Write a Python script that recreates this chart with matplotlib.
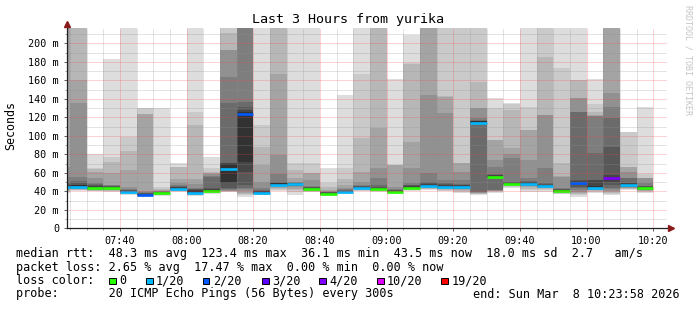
import numpy as np
import matplotlib
matplotlib.use("Agg")
from matplotlib import pyplot as plt
from matplotlib.patches import Rectangle

W, H = 697, 310
MONO = "DejaVu Sans Mono"

# ---- data ----------------------------------------------------------
# start of every 5 minute step, minutes after 07:00 (07:20 ... 10:15)
step_start = np.arange(20, 200, 5)

# 20 sorted ping rtts per step (ms), values above the chart top are clipped
pings = [
    [38.0, 39.0, 40.0, 41.0, 42.0, 42.8, 43.4, 43.9, 44.3, 44.7, 45.6, 46.5, 48.0, 50.0, 55.0, 66.5, 230, 230, 230, 230],
    [40.5, 41.0, 41.6, 42.0, 42.5, 43.0, 43.4, 43.8, 44.2, 44.6, 46.4, 47.3, 48.6, 51.1, 55.8, 135.1, 160.3, 230, 230, 230],
    [39.9, 40.3, 40.7, 41.0, 41.4, 41.7, 42.0, 42.3, 42.6, 43.0, 44.5, 45.5, 46.5, 47.5, 48.6, 54.0, 61.2, 64.1, 65.5, 80.3],
    [39.6, 40.1, 40.6, 41.0, 41.5, 41.9, 42.2, 42.5, 42.8, 43.1, 44.2, 44.8, 45.3, 45.8, 46.3, 47.0, 59.4, 72.0, 77.4, 182.5],
    [36.2, 36.8, 37.3, 37.7, 38.1, 38.4, 38.7, 39.0, 39.3, 39.5, 40.3, 40.8, 41.2, 41.8, 42.5, 45.0, 63.0, 83.6, 99.1, 230],
    [34.3, 34.6, 34.9, 35.1, 35.3, 35.5, 35.7, 35.9, 36.0, 36.1, 37.0, 37.4, 37.8, 38.2, 38.8, 40.0, 123.6, 124.0, 129.8, 130.4],
    [35.4, 35.8, 36.2, 36.5, 36.8, 37.0, 37.2, 37.4, 37.6, 37.7, 38.4, 38.7, 39.0, 39.4, 39.8, 40.3, 41.0, 42.5, 45.0, 130.5],
    [39.3, 39.8, 40.3, 40.7, 41.1, 41.4, 41.7, 42.0, 42.3, 42.5, 43.6, 44.2, 44.8, 45.5, 46.5, 48.6, 53.0, 66.0, 66.6, 71.0],
    [35.0, 35.6, 36.1, 36.5, 36.9, 37.2, 37.5, 37.8, 38.0, 38.2, 40.0, 41.0, 42.0, 43.0, 44.0, 48.0, 52.9, 111.7, 125.4, 230],
    [37.4, 37.9, 38.3, 38.7, 39.0, 39.3, 39.6, 39.9, 40.1, 40.3, 41.5, 42.5, 43.5, 55.8, 57.0, 58.5, 60.1, 61.0, 64.8, 77.4],
    [39.3, 39.6, 39.9, 40.3, 40.8, 41.3, 42.2, 43.2, 49.5, 50.4, 70.0, 70.2, 70.4, 135.1, 164.0, 192.8, 193.2, 210.8, 230, 230],
    [34.2, 35.5, 37.0, 38.5, 40.0, 42.0, 44.0, 46.8, 61.2, 72.0, 125.5, 128.0, 130.8, 136.9, 230, 230, 230, 230, 230, 230],
    [35.5, 36.0, 36.5, 36.9, 37.2, 37.5, 37.8, 38.0, 38.2, 38.3, 39.6, 40.2, 40.8, 41.5, 43.2, 50.4, 68.4, 88.3, 111.7, 230],
    [40.0, 41.5, 42.8, 43.8, 44.6, 45.3, 45.8, 46.2, 46.6, 46.9, 48.5, 49.0, 49.5, 50.4, 58.3, 78.9, 166.8, 230, 230, 230],
    [36.0, 39.0, 41.5, 43.0, 44.5, 45.5, 46.2, 46.7, 47.0, 47.2, 48.3, 48.6, 48.9, 49.3, 49.8, 50.5, 54.0, 63.0, 70.2, 230],
    [38.8, 39.3, 39.8, 40.3, 40.8, 41.2, 41.5, 41.8, 42.0, 42.2, 43.4, 43.8, 44.2, 44.8, 45.5, 52.0, 59.4, 59.6, 70.2, 230],
    [34.8, 35.3, 35.8, 36.2, 36.5, 36.8, 37.0, 37.2, 37.4, 37.5, 38.2, 38.5, 38.8, 39.1, 39.5, 40.0, 41.0, 45.0, 48.6, 64.8],
    [36.8, 37.3, 37.8, 38.2, 38.5, 38.8, 39.0, 39.2, 39.4, 39.5, 40.1, 40.4, 40.8, 41.3, 42.0, 43.2, 46.5, 53.3, 64.8, 144.1],
    [40.0, 40.8, 41.5, 42.0, 42.5, 42.9, 43.2, 43.5, 43.7, 43.9, 44.5, 44.9, 45.3, 45.8, 46.5, 50.4, 61.2, 97.3, 166.5, 230],
    [39.3, 39.8, 40.3, 40.7, 41.1, 41.4, 41.7, 41.9, 42.1, 42.3, 43.2, 44.0, 45.0, 46.5, 54.0, 64.8, 108.0, 230, 230, 230],
    [37.3, 37.7, 38.1, 38.4, 38.7, 38.9, 39.1, 39.3, 39.4, 39.5, 40.1, 40.5, 41.0, 41.7, 42.5, 45.0, 68.0, 68.3, 68.5, 161.4],
    [40.8, 41.4, 41.9, 42.3, 42.7, 43.0, 43.3, 43.5, 43.7, 43.9, 45.0, 45.8, 46.5, 47.3, 48.5, 64.8, 93.7, 178.0, 178.4, 209.0],
    [41.5, 42.3, 43.0, 43.6, 44.1, 44.6, 45.0, 45.4, 45.7, 46.0, 47.2, 48.0, 49.0, 50.4, 59.4, 144.1, 230, 230, 230, 230],
    [39.8, 40.6, 41.3, 42.0, 42.6, 43.1, 43.6, 44.0, 44.4, 44.7, 46.0, 46.8, 47.8, 49.0, 52.0, 124.3, 142.3, 143.0, 230, 230],
    [38.2, 39.5, 40.6, 41.5, 42.3, 43.0, 43.6, 44.1, 44.5, 44.8, 46.0, 46.5, 47.0, 47.6, 52.0, 61.0, 70.2, 70.4, 230, 230],
    [36.0, 37.0, 37.5, 38.0, 38.5, 39.0, 39.6, 112.5, 113.0, 113.5, 115.5, 116.0, 116.5, 117.0, 118.9, 129.7, 130.0, 158.5, 230, 230],
    [38.0, 39.2, 39.8, 40.2, 40.6, 41.0, 41.4, 54.0, 54.5, 55.0, 56.9, 57.4, 57.9, 58.5, 66.6, 73.8, 95.5, 95.7, 129.7, 141.2],
    [44.0, 44.8, 45.5, 46.0, 46.5, 46.9, 47.2, 47.5, 47.7, 47.9, 48.9, 49.3, 49.8, 50.4, 75.7, 80.0, 86.4, 127.9, 134.8, 135.5],
    [39.6, 41.5, 43.0, 44.2, 45.2, 46.0, 46.6, 47.1, 47.4, 47.7, 49.1, 49.6, 50.2, 51.0, 54.0, 73.8, 106.3, 106.5, 131.5, 230],
    [39.5, 41.0, 42.3, 43.2, 43.8, 44.2, 44.5, 44.7, 44.9, 45.0, 46.4, 47.0, 47.6, 48.5, 64.8, 122.5, 122.7, 185.6, 230, 230],
    [37.0, 37.6, 38.1, 38.5, 38.8, 39.1, 39.3, 39.5, 39.7, 39.8, 41.3, 41.8, 42.3, 43.0, 44.0, 55.8, 56.0, 70.2, 173.0, 230],
    [34.2, 35.5, 37.0, 38.0, 39.5, 41.0, 43.2, 45.0, 47.5, 48.5, 50.3, 51.0, 52.0, 125.4, 125.6, 140.5, 140.7, 160.3, 160.5, 230],
    [38.5, 39.5, 40.3, 40.9, 41.4, 41.8, 42.1, 42.4, 42.6, 42.8, 46.0, 52.2, 52.4, 81.0, 121.8, 121.9, 122.0, 125.4, 134.0, 161.4],
    [36.0, 37.0, 38.0, 39.0, 40.5, 42.0, 44.0, 47.0, 50.0, 52.0, 55.8, 57.5, 88.3, 118.9, 131.5, 145.9, 230, 230, 230, 230],
    [41.0, 42.0, 42.8, 43.5, 44.1, 44.6, 45.0, 45.4, 45.7, 46.0, 47.8, 48.5, 49.5, 54.0, 54.2, 61.0, 66.6, 66.8, 104.3, 104.5],
    [38.2, 39.2, 40.0, 40.7, 41.2, 41.7, 42.1, 42.4, 42.7, 42.9, 44.2, 44.8, 45.3, 46.0, 48.6, 54.0, 54.1, 54.2, 58.3, 131.5],
]

median = [44.5, 45.0, 43.5, 43.3, 39.6, 36.2, 37.8, 42.8, 38.6, 40.4, 64.6, 123.4,
          38.6, 47.3, 47.7, 42.7, 37.6, 39.6, 44.0, 42.5, 39.6, 44.0, 46.1, 45.0,
          45.0, 114.2, 55.8, 48.3, 48.3, 45.3, 40.0, 49.1, 43.2, 54.0, 46.5, 43.2]

# lost pings out of 20 for each step
loss = [1, 1, 0, 0, 1, 2, 0, 1, 1, 0, 1, 2,
        1, 1, 1, 0, 0, 1, 1, 0, 0, 0, 1, 1,
        1, 1, 0, 0, 1, 1, 0, 2, 1, 4, 1, 0]

loss_levels = [0, 1, 2, 3, 4, 10, 19]
loss_labels = ["0", "1/20", "2/20", "3/20", "4/20", "10/20", "19/20"]
loss_colors = ["#26ff00", "#00b8ff", "#0059ff", "#5e00ff", "#7e00ff", "#dd00ff", "#ff0000"]

xtick_pos = [40, 60, 80, 100, 120, 140, 160, 180, 200]
xtick_labels = ["07:40", "08:00", "08:20", "08:40", "09:00", "09:20", "09:40", "10:00", "10:20"]
ytick_pos = [0, 20, 40, 60, 80, 100, 120, 140, 160, 180, 200]
ytick_labels = ["0"] + ["%d m" % v for v in ytick_pos[1:]]

rtt_stats = [48.3, 123.4, 36.1, 43.5, 18.0]
am_s = 2.7
loss_stats = [2.65, 17.47, 0.00, 0.00]


def px(x, y):
    return x / W, 1 - y / H


fig = plt.figure(figsize=(W / 100, H / 100), dpi=100)
fig.patch.set_facecolor("white")
ax = fig.add_axes([66.5 / W, 1 - 228.3 / H, 600 / W, 200 / H])
ax.set_xlim(24, 204)
ax.set_ylim(0, 216.2)

# smoke: 10 nested bands, outer ones lighter
grays = ["#%02x%02x%02x" % ((int(19 * (10 - i)) + 50,) * 3) for i in range(1, 11)]
for k, p in enumerate(pings):
    for i in range(10):
        ax.bar(step_start[k], p[19 - i] - p[i], bottom=p[i], width=5, align="edge",
               color=grays[i], linewidth=0, zorder=2)
    col = loss_colors[max(j for j, lv in enumerate(loss_levels) if loss[k] >= lv)]
    ax.plot([step_start[k], step_start[k] + 5], [median[k], median[k]], color=col,
            lw=1.9, solid_capstyle="butt", zorder=3)

# grid on top like rrdtool
for v in range(10, 216, 10):
    major = v % 20 == 0
    ax.axhline(v, color="#ff4040" if major else "#909090", alpha=0.45 if major else 0.5,
               lw=0.72, ls=(0, (1, 1)), zorder=5)
for t in range(25, 204, 5):
    major = t % 20 == 0
    ax.axvline(t, color="#ff4040" if major else "#909090", alpha=0.45 if major else 0.5,
               lw=0.72, ls=(0, (1, 1)), zorder=5)

for s in ["top", "right", "left", "bottom"]:
    ax.spines[s].set_visible(False)
ax.plot([24, 24], [0, 220], color="#202020", lw=0.9, clip_on=False, zorder=6)
ax.plot([24, 205.2], [0, 0], color="#202020", lw=0.9, clip_on=False, zorder=6)
ax.plot([24], [221], marker="^", ms=4, color="#8b1a1a", clip_on=False, zorder=7)
ax.plot([205.4], [0], marker=">", ms=4, color="#8b1a1a", clip_on=False, zorder=7)

ax.set_xticks(xtick_pos)
ax.set_xticklabels(xtick_labels)
ax.set_xticks(range(25, 204, 5), minor=True)
ax.set_yticks(ytick_pos)
ax.set_yticklabels(ytick_labels)
ax.set_yticks(range(10, 216, 20), minor=True)
ax.tick_params(which="major", length=2.2, width=0.7, color="#606060", pad=3.2,
               labelsize=7.3, direction="out")
ax.tick_params(which="minor", length=1.5, width=0.6, color="#909090", direction="out")
for lab in ax.get_xticklabels() + ax.get_yticklabels():
    lab.set_fontfamily(MONO)

# texts
fig.text(*px(347.5, 19), "Last 3 Hours from yurika", ha="center", va="center",
         fontsize=9.6, family=MONO)
fig.text(*px(11, 125), "Seconds", rotation=90, ha="center", va="center",
         fontsize=8.4, family=MONO)
fig.text(*px(688, 5), "RRDTOOL / TOBI OETIKER", rotation=270, ha="center", va="top",
         fontsize=6, family=MONO, color="#c4c4c4")

FS = 8.45
row1 = ("median rtt:  %.1f ms avg  %.1f ms max  %.1f ms min  %.1f ms now  %.1f ms sd  %.1f   am/s"
        % (rtt_stats[0], rtt_stats[1], rtt_stats[2], rtt_stats[3], rtt_stats[4], am_s))
row2 = ("packet loss: %.2f %% avg  %.2f %% max  %.2f %% min  %.2f %% now"
        % tuple(loss_stats))
fig.text(*px(16, 257.5), row1, fontsize=FS, family=MONO, va="baseline")
fig.text(*px(16, 271), row2, fontsize=FS, family=MONO, va="baseline")
fig.text(*px(16, 284.5), "loss color:", fontsize=FS, family=MONO, va="baseline")
box_x = [109, 146, 202.7, 262.3, 319.3, 377, 441.3]
for bx, lab, c in zip(box_x, loss_labels, loss_colors):
    fig.add_artist(Rectangle(px(bx, 284.2), 6.7 / W, 6.7 / H, transform=fig.transFigure,
                             facecolor=c, edgecolor="black", lw=0.7))
    fig.text(*px(bx + 10, 284.5), lab, fontsize=FS, family=MONO, va="baseline")
fig.text(*px(16, 297.5), "probe:       20 ICMP Echo Pings (56 Bytes) every 300s",
         fontsize=FS, family=MONO, va="baseline")
fig.text(*px(680, 297.5), "end: Sun Mar  8 10:23:58 2026", fontsize=FS, family=MONO,
         va="baseline", ha="right")

fig.savefig("out.png", dpi=100, facecolor="white")
